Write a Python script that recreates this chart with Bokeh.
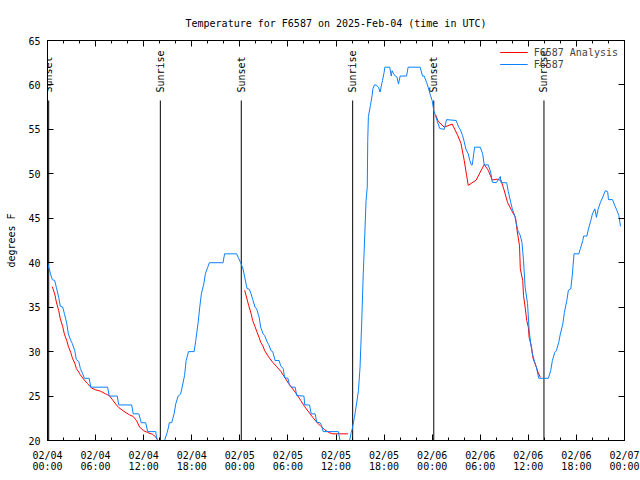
import math
from bokeh.plotting import figure
from bokeh.models import (Range1d, FixedTicker, LinearAxis, CustomJSTickFormatter)
from bokeh.core.properties import value
from bokeh.embed import file_html
from bokeh.resources import INLINE

# ---------------- data ----------------
TITLE = "Temperature for F6587 on 2025-Feb-04 (time in UTC)"
Y_LABEL = "degrees F"

# hours since 2025-02-04 00:00 UTC
obs_hours = [0.0, 0.375, 0.6, 0.9, 1.1, 1.4, 1.6, 1.9, 2.1, 2.4, 2.6, 2.9, 3.1, 3.4, 3.6, 3.9,
             4.1, 4.4, 4.6, 5.2, 5.4, 7.5, 7.7, 8.7, 8.9, 10.5, 10.7, 11.4, 11.7, 12.25, 12.5,
             13.5, 13.6, 13.9, 14.4, 14.6, 14.9, 15.1, 15.2, 15.5, 15.8, 16.0, 16.3, 16.6,
             16.8, 17.1, 17.3, 17.6, 18.3, 18.5, 18.8, 19.0, 19.2, 19.5, 19.7, 20.0, 20.2,
             21.9, 22.1, 23.6, 23.8, 24.1, 24.4, 24.6, 24.9, 25.2, 25.4, 25.6, 25.9, 26.1,
             26.4, 26.6, 26.9, 27.1, 27.4, 27.6, 27.9, 28.1, 28.4, 28.9, 29.1, 29.4, 29.6,
             30.0, 30.2, 30.5, 30.9, 31.1, 32.0, 32.1, 32.7, 32.9, 33.4, 33.6, 34.0, 34.2,
             34.4, 36.3, 36.5, 36.7, 37.5, 37.7, 37.9, 38.0, 38.3, 38.5, 38.8, 39.0, 39.2,
             39.4, 39.5, 39.75, 39.9, 39.96, 40.04, 40.3, 40.5, 40.6, 40.8, 41.0, 41.3, 41.5,
             41.8, 42.0, 42.1, 42.7, 42.9, 43.0, 43.2, 43.4, 43.6, 43.8, 44.0, 44.8, 45.0,
             46.5, 46.8, 47.0, 47.3, 47.5, 47.8, 48.0, 48.2, 48.4, 48.6, 48.95, 49.5, 49.8,
             51.0, 51.3, 51.5, 51.8, 52.0, 52.2, 52.5, 52.7, 52.9, 53.0, 53.3, 54.0, 54.3,
             54.5, 55.0, 55.3, 55.5, 56.0, 56.3, 56.5, 56.6, 57.3, 57.5, 57.8, 58.0, 58.3,
             58.5, 58.7, 59.0, 59.2, 59.4, 59.6, 59.9, 60.1, 60.3, 60.5, 60.8, 61.0, 61.3,
             62.5, 62.8, 63.0, 63.3, 63.5, 63.8, 64.0, 64.3, 64.5, 64.8, 65.0, 65.3, 65.5,
             65.7, 66.3, 66.5, 66.8, 66.9, 67.3, 67.5, 67.8, 68.0, 68.3, 68.5, 68.7, 69.0,
             69.3, 69.6, 69.9, 70.0, 70.5, 70.8, 71.0, 71.3, 71.5]
obs_temps = [40, 38.75, 38.1, 38, 37.25, 36.1, 35.1, 35, 34.3, 33.2, 32, 31.25, 30.9, 30.1, 29.1, 28.9,
             28.1, 27.5, 27, 27, 26, 26, 25, 25, 24, 24, 23, 23, 22, 22, 21,
             21, 20.4, 19.5, 19.5, 20, 20.8, 21.5, 22, 22, 23, 24.1, 25, 25.2,
             26, 27.3, 29, 30, 30, 31.25, 33.3, 35, 36.5, 37.6, 38.75, 39.5, 40,
             40, 41, 41, 40.6, 40, 39.3, 38.4, 37.1, 37, 36.5, 35.9, 35, 34.8,
             33.9, 32.75, 32, 31.8, 31.1, 30.8, 30.1, 30, 29, 29, 28.4, 28.1, 27.05,
             27, 26.2, 26, 26, 25.05, 25, 24, 24, 23, 23, 22.05, 22, 21.7,
             21, 21, 20, 19.5, 19.5, 20, 20.9, 21.2, 22.6, 23.75, 25.6, 28.25, 33.1,
             38.75, 41, 47, 48.5, 53.75, 56.45, 57.7, 58.8, 59.56, 60, 60, 59.75, 59.2,
             60.5, 61.4, 62, 62, 61, 61.6, 61.25, 61, 60.9, 60.1, 61, 61, 62,
             62, 61, 61, 60.3, 59.75, 58.8, 58.25, 57.1, 56.6, 56, 55.1, 55, 56.1,
             56, 55.25, 55, 54.3, 53.6, 52.8, 52.25, 51.5, 51, 51, 53, 53, 52.25,
             51, 51, 50.2, 49.06, 49, 49.4, 49.7, 49, 49, 48, 46.8, 46.06, 45.3,
             44.4, 43.6, 43.06, 42.3, 40.25, 37.25, 35.4, 32.4, 30.9, 29.75, 28.8, 28.25, 27,
             27, 27.9, 29, 29.9, 30.1, 31.06, 32, 33.1, 34.4, 35.75, 36.9, 37.06, 38.75,
             41, 41, 41.6, 42.5, 43, 43, 43.8, 44.75, 45.5, 46.06, 45.1, 46, 46.8,
             47.4, 48.1, 48, 47.1, 47.1, 46.4, 46, 45.3, 44.1]

NAN = float("nan")
ana_hours = [0.6, 0.9, 1.1, 1.4, 1.6, 1.9, 2.1, 2.4, 2.6, 2.9, 3.1, 3.4, 3.6, 3.9, 4.1, 4.5,
             5.0, 5.5, 6.0, 6.6, 7.25, 7.7, 8.1, 8.5, 8.9, 9.5, 10.2, 10.7, 11.1, 11.5, 12.0,
             12.5, 13.1, 13.5, 13.7, NAN,
             24.6, 24.9, 25.1, 25.4, 25.6, 25.9, 26.1, 26.4, 26.6, 26.9, 27.1, 27.6, 28.1,
             28.6, 29.1, 29.6, 30.1, 30.6, 31.1, 31.6, 32.1, 32.6, 33.1, 33.6, 34.1, 34.6,
             35.1, 35.6, 37.5, NAN,
             48.45, 48.75, 49.5, 50.5, 51.2, 51.6, 52.0, 52.3, 52.5, 53.5, 54.0, 54.5, 55.0,
             55.5, 56.1, 56.6, 57.0, 57.4, 57.9, 58.4, 58.6, 58.9, 59.0, 59.3, 59.4, 59.6,
             59.8, 60.0, 60.1, 60.4, 60.6, 61.0, 61.2, 61.5]
ana_temps = [37.3, 36.5, 35.6, 34.6, 33.7, 32.8, 32, 31.25, 30.6, 29.9, 29.3, 28.7, 28.1, 27.7, 27.4, 26.9,
             26.4, 25.9, 25.7, 25.55, 25.25, 25.05, 24.6, 24.1, 23.7, 23.3, 22.9, 22.7, 22.25, 21.5, 21.1,
             20.9, 20.7, 20.4, 20.1, NAN,
             36.9, 35.9, 35.2, 34.3, 33.5, 32.8, 32.3, 31.6, 31.06, 30.6, 30.1, 29.4, 28.8,
             28.3, 27.8, 27.1, 26.4, 25.8, 25.2, 24.5, 23.8, 23.2, 22.6, 22.05, 21.6, 21.2,
             20.9, 20.75, 20.75, NAN,
             56.6, 55.9, 55.25, 55.6, 54.3, 53.4, 51.5, 49.8, 48.7, 49.3, 50.2, 51.05, 50.4,
             49.3, 49.4, 49.25, 48.1, 46.8, 45.9, 45.1, 43.6, 41.9, 39.3, 38, 36.3, 35,
             33.5, 32.75, 31.6, 30.5, 29.2, 28.25, 27.7, 27.1]

event_hours = [0.15, 14.08, 24.18, 38.08, 48.2, 61.95]
event_names = ["Sunset", "Sunrise", "Sunset", "Sunrise", "Sunset", "Sunrise"]

x_ticks = [0, 6, 12, 18, 24, 30, 36, 42, 48, 54, 60, 66, 72]
x_tick_labels = ["02/04\n00:00", "02/04\n06:00", "02/04\n12:00", "02/04\n18:00",
                 "02/05\n00:00", "02/05\n06:00", "02/05\n12:00", "02/05\n18:00",
                 "02/06\n00:00", "02/06\n06:00", "02/06\n12:00", "02/06\n18:00",
                 "02/07\n00:00"]
x_minor = list(range(0, 73, 2))
y_ticks = [20, 25, 30, 35, 40, 45, 50, 55, 60, 65]

X_MIN, X_MAX = 0, 72
Y_MIN, Y_MAX = 20, 65

# ---------------- styling ----------------
FONT = "DejaVu Sans Mono"
FS = "10px"
RED = "#ff0000"
BLUE = "#0a80ff"

p = figure(width=640, height=480, output_backend="svg", toolbar_location=None,
           x_range=Range1d(X_MIN, X_MAX), y_range=Range1d(Y_MIN, Y_MAX),
           min_border_left=47, min_border_right=16, min_border_top=40, min_border_bottom=40,
           background_fill_color="white", border_fill_color="white")

p.title.text = TITLE
p.title.text_font = FONT
p.title.text_font_size = FS
p.title.text_font_style = "normal"
p.title.align = "center"
p.title.text_color = "black"
p.title.standoff = 24

p.outline_line_color = "black"
p.outline_line_width = 1
p.xgrid.visible = False
p.ygrid.visible = False

xt = FixedTicker(ticks=x_ticks, minor_ticks=x_minor)
yt = FixedTicker(ticks=y_ticks, minor_ticks=[])

xa = p.xaxis[0]
xa.ticker = xt
xa.major_label_overrides = {t: lab for t, lab in zip(x_ticks, x_tick_labels)}
xa.major_label_text_line_height = 1.0
ya = p.yaxis[0]
ya.ticker = yt
ya.axis_label = Y_LABEL
ya.axis_label_text_font = FONT
ya.axis_label_text_font_size = FS
ya.axis_label_text_font_style = "normal"
ya.axis_label_text_color = "black"
ya.axis_label_standoff = 8

blank = CustomJSTickFormatter(code="return '';")
xa_top = LinearAxis(ticker=xt, formatter=blank)
ya_right = LinearAxis(ticker=yt, formatter=blank)
p.add_layout(xa_top, "above")
p.add_layout(ya_right, "right")

for ax in [xa, ya, xa_top, ya_right]:
    ax.axis_line_color = "black"
    ax.major_tick_line_color = "black"
    ax.minor_tick_line_color = "black"
    ax.major_tick_in = 6
    ax.major_tick_out = 0
    ax.minor_tick_in = 3
    ax.minor_tick_out = 0
    ax.major_label_text_font = FONT
    ax.major_label_text_font_size = FS
    ax.major_label_text_color = "black"
for ax in [xa_top, ya_right]:
    ax.major_label_standoff = 0
    ax.major_label_text_font_size = "0px"
xa.major_label_standoff = 9
ya.major_label_standoff = 7

# sunrise / sunset markers (line to 85% of plot height, label above it)
line_top = Y_MIN + 0.85 * (Y_MAX - Y_MIN)
label_y = Y_MIN + 0.87 * (Y_MAX - Y_MIN)
p.segment(x0=event_hours, y0=[Y_MIN] * len(event_hours), x1=event_hours,
          y1=[line_top] * len(event_hours), line_color="black", line_width=1)
p.text(x=event_hours, y=[label_y] * len(event_hours), text=event_names,
       angle=math.pi / 2, text_align="left", text_baseline="middle",
       text_font=value(FONT), text_font_size=FS, text_color="black")

p.line(ana_hours, ana_temps, line_color=RED, line_width=1, legend_label="F6587 Analysis")
p.line(obs_hours, obs_temps, line_color=BLUE, line_width=1, legend_label="F6587")

lg = p.legend[0]
lg.location = "top_right"
lg.border_line_color = None
lg.background_fill_alpha = 0
lg.label_text_font = FONT
lg.label_text_font_size = FS
lg.label_height = 12
lg.glyph_height = 12
lg.glyph_width = 28
lg.spacing = 0
lg.padding = 0
lg.margin = 6
lg.label_standoff = 6

open("out.html", "w").write(file_html(p, INLINE))
